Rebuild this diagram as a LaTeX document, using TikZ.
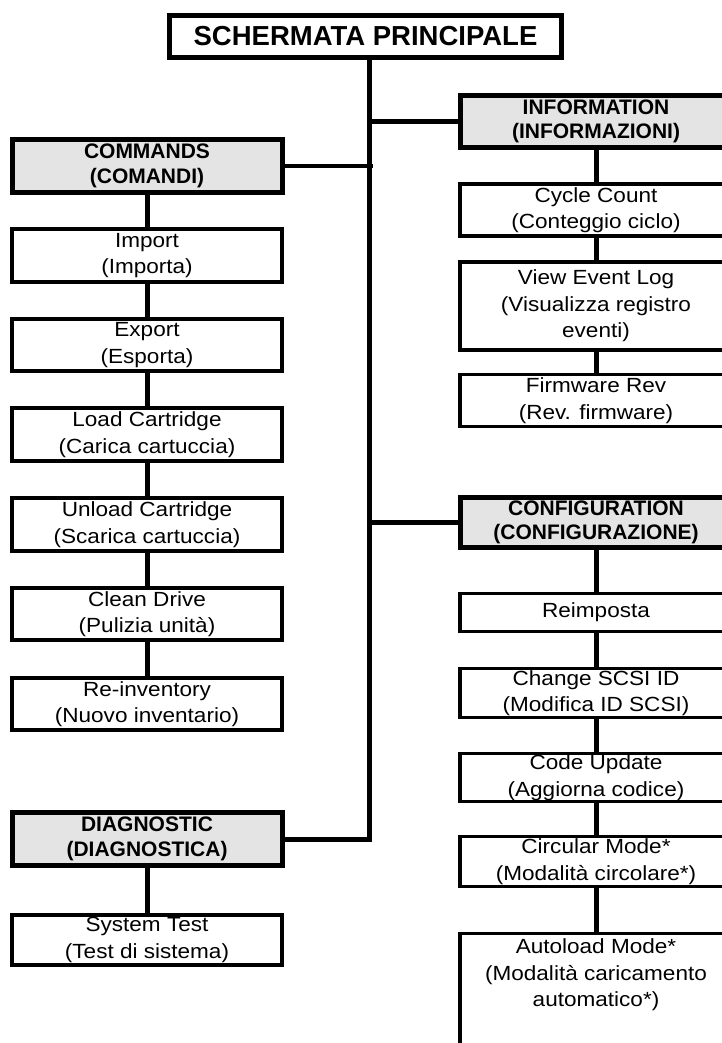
\documentclass[tikz,border=0pt]{standalone}
\usepackage{fontspec}
\setmainfont{Liberation Sans}
\newfontfamily\widesans{Liberation Sans}[FakeStretch=1.1]
\definecolor{hdrgray}{RGB}{228,228,228}
\begin{document}
\begin{tikzpicture}[x=1pt,y=-1pt,
  box/.style={draw, line width=3.5pt, fill=white, minimum width=270pt, align=center, inner sep=0pt, font=\widesans\fontsize{20.5}{26.5}\selectfont},
  hdr/.style={box, line width=5pt, fill=hdrgray, font=\normalfont\bfseries\fontsize{21}{24.5}\selectfont},
  rbox/.style={box, minimum width=272pt},
  rhdr/.style={hdr, minimum width=272pt},
  conn/.style={line width=5pt, line join=miter},
  branch/.style={line width=4.5pt}]
\useasboundingbox (0,0) rectangle (722,1043);
\clip (0,0) rectangle (722,1043);
\fill[white] (0,0) rectangle (722,1043);

% main
\node[box, line width=5pt, minimum width=392pt, minimum height=42pt, font=\normalfont\bfseries\fontsize{27.5}{30}\selectfont] (main) at (365.5,36.5) {SCHERMATA PRINCIPALE};

% left column
\node[hdr, minimum height=53pt] (cmd) at (147,166) {COMMANDS\\(COMANDI)};
\node[box, minimum height=53pt] (import) at (147,255.5) {Import\\(Importa)};
\node[box, minimum height=52pt] (export) at (147,345) {Export\\(Esporta)};
\node[box, minimum height=53pt] (load) at (147,434.5) {Load Cartridge\\(Carica cartuccia)};
\node[box, minimum height=53pt] (unload) at (147,524.5) {Unload Cartridge\\(Scarica cartuccia)};
\node[box, minimum height=52pt] (clean) at (147,614) {Clean Drive\\(Pulizia unità)};
\node[box, minimum height=52pt] (reinv) at (147,704) {Re-inventory\\(Nuovo inventario)};
\node[hdr, minimum height=53pt] (diag) at (147,839) {DIAGNOSTIC\\(DIAGNOSTICA)};
\node[box, minimum height=50pt] (systest) at (147,940) {System Test\\(Test di sistema)};

% right column
\node[rhdr, minimum height=52pt] (info) at (596,121.5) {INFORMATION\\(INFORMAZIONI)};
\node[rbox, minimum height=52pt] (cycle) at (596,210) {Cycle Count\\(Conteggio ciclo)};
\node[rbox, minimum height=88pt] (view) at (596,306) {View Event Log\\(Visualizza registro\\eventi)};
\node[rbox, minimum height=52pt] (firm) at (596,400.5) {Firmware Rev\\(Rev. firmware)};
\node[rhdr, minimum height=50pt] (config) at (596,522.5) {CONFIGURATION\\(CONFIGURAZIONE)};
\node[rbox, minimum height=38pt] (reimp) at (596,612.5) {Reimposta};
\node[rbox, minimum height=49pt] (scsi) at (596,693) {Change SCSI ID\\(Modifica ID SCSI)};
\node[rbox, minimum height=48pt] (code) at (596,777.5) {Code Update\\(Aggiorna codice)};
\node[rbox, minimum height=50pt] (circ) at (596,861.5) {Circular Mode*\\(Modalità circolare*)};
\node[rbox, minimum height=140pt, anchor=north] (auto) at (596,931.5) {};
\node[align=center, inner sep=0pt, font=\widesans\fontsize{20.5}{26.5}\selectfont] (autotxt) at (596,975) {Autoload Mode*\\(Modalità caricamento\\automatico*)};

% trunk and branches
\coordinate (trunkBot) at (369,839);
\coordinate (cmdJ) at (373,166);
\draw[conn] (main.south -| trunkBot) -- (trunkBot) -- (diag.east);
\draw[branch] (cmd.east) -- (cmdJ);
\draw[branch] (info.west -| trunkBot) -- (info.west);
\draw[branch] (config.west -| trunkBot) -- (config.west);

% vertical chains
\foreach \a/\b in {cmd/import, import/export, export/load, load/unload, unload/clean, clean/reinv, diag/systest,
                   info/cycle, cycle/view, view/firm, config/reimp, reimp/scsi, scsi/code, code/circ, circ/auto}
  \draw[conn] (\a) -- (\b);
\end{tikzpicture}
\end{document}
